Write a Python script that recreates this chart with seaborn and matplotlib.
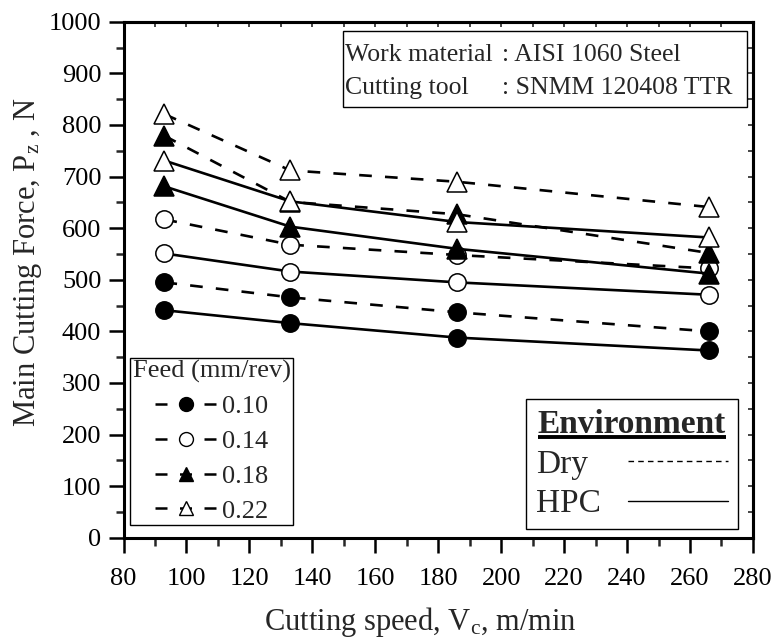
import numpy as np
import pandas as pd
import matplotlib
matplotlib.use("Agg")
import matplotlib.pyplot as plt
from matplotlib.lines import Line2D
from matplotlib.patches import Rectangle
from matplotlib.ticker import MultipleLocator, NullFormatter
import seaborn as sns

# Cutting speeds (m/min)
speeds = [93, 133, 186, 266]
feeds = ["0.10", "0.14", "0.18", "0.22"]

# Main cutting force Pz (N), dry cutting
dry_f010 = [495, 466, 437, 400]
dry_f014 = [617, 568, 548, 522]
dry_f018 = [779, 651, 627, 552]
dry_f022 = [821, 712, 690, 641]

# Main cutting force Pz (N), high-pressure coolant
hpc_f010 = [441, 416, 388, 363]
hpc_f014 = [551, 516, 495, 471]
hpc_f018 = [681, 603, 560, 512]
hpc_f022 = [731, 652, 612, 582]

rows = []
for env, series in (("Dry", [dry_f010, dry_f014, dry_f018, dry_f022]),
                    ("HPC", [hpc_f010, hpc_f014, hpc_f018, hpc_f022])):
    for feed, vals in zip(feeds, series):
        for v, f in zip(speeds, vals):
            rows.append({"env": env, "feed": feed, "speed": v, "force": f})
df = pd.DataFrame(rows)

sns.set_theme(style="ticks")
plt.rcParams["font.family"] = ["Liberation Serif", "DejaVu Serif"]
plt.rcParams["mathtext.fontset"] = "custom"
plt.rcParams["mathtext.rm"] = "Liberation Serif"
plt.rcParams["mathtext.it"] = "Liberation Serif:italic"
plt.rcParams["mathtext.bf"] = "Liberation Serif:bold"

fig = plt.figure(figsize=(7.77, 6.41), dpi=100)
ax = fig.add_axes([0.159, 0.161, 0.810, 0.805])

marker_style = {
    "0.10": ("o", "black"),
    "0.14": ("o", "white"),
    "0.18": ("^", "black"),
    "0.22": ("^", "white"),
}
dash_ls = (0, (4.8, 5.0))
line_style = {"Dry": dash_ls, "HPC": "-"}

for env in ["Dry", "HPC"]:
    for feed in feeds:
        sub = df[(df["env"] == env) & (df["feed"] == feed)]
        mk, fc = marker_style[feed]
        sns.lineplot(data=sub, x="speed", y="force", ax=ax, color="black",
                     linestyle=line_style[env], linewidth=1.9,
                     marker=mk, markersize=12.5 if mk == "o" else 14,
                     markerfacecolor=fc, markeredgecolor="black",
                     markeredgewidth=1.1, legend=False)

ax.set_xlim(80, 280)
ax.set_ylim(0, 1000)
ax.xaxis.set_major_locator(MultipleLocator(20))
ax.xaxis.set_minor_locator(MultipleLocator(10))
ax.yaxis.set_major_locator(MultipleLocator(100))
ax.yaxis.set_minor_locator(MultipleLocator(50))
ax.tick_params(which="major", direction="out", length=11, width=1.8,
               labelsize=19, pad=5, colors="black")
ax.tick_params(axis="x", which="major", pad=11)
ax.tick_params(which="minor", direction="out", length=6, width=1.8)
for sp in ax.spines.values():
    sp.set_linewidth(2.2)
    sp.set_color("black")
    sp.set_visible(True)

# small inward ticks on the top and right frame
top = ax.secondary_xaxis("top")
top.set_xticks(np.arange(80, 281, 10))
top.xaxis.set_major_formatter(NullFormatter())
top.tick_params(direction="in", length=3.5, width=1.2)
right = ax.secondary_yaxis("right")
right.set_yticks(np.arange(0, 1001, 50))
right.yaxis.set_major_formatter(NullFormatter())
right.tick_params(direction="in", length=3.5, width=1.2)
for s in (top, right):
    for sp in s.spines.values():
        sp.set_linewidth(2.2)

ax.set_xlabel(r"Cutting speed, $\mathrm{V_c}$, m/min", fontsize=22)
ax.set_ylabel(r"Main Cutting Force, $\mathrm{P_z}$ , N", fontsize=22)
ax.xaxis.set_label_coords(0.471, -0.13)
ax.yaxis.set_label_coords(-0.126, 0.533)

# work material / tool information box
ax.add_patch(Rectangle((0.348, 0.834), 0.642, 0.149, transform=ax.transAxes,
                       facecolor="white", edgecolor="black", linewidth=1.0,
                       zorder=5))
info_rows = [("Work material", ": AISI 1060 Steel", 0.9355),
             ("Cutting tool", ": SNMM 120408 TTR", 0.8716)]
for left_txt, right_txt, yy in info_rows:
    ax.text(0.352, yy, left_txt, transform=ax.transAxes, fontsize=18.5,
            ha="left", va="center", zorder=6)
    ax.text(0.601, yy, right_txt, transform=ax.transAxes, fontsize=18.5,
            ha="left", va="center", zorder=6)

# feed legend
feed_handles = []
for feed in feeds:
    mk, fc = marker_style[feed]
    feed_handles.append(Line2D([], [], color="black", linestyle=dash_ls,
                               linewidth=1.8, marker=mk, markersize=10,
                               markerfacecolor=fc, markeredgecolor="black",
                               markeredgewidth=1.0))
feed_leg = ax.legend(feed_handles, feeds, title="Feed (mm/rev)",
                     loc="lower left", bbox_to_anchor=(0.0103, 0.0244),
                     borderaxespad=0, fontsize=19, title_fontsize=19,
                     frameon=True, fancybox=False, edgecolor="black",
                     framealpha=1, borderpad=0.1, labelspacing=0.43,
                     handlelength=2.35, handletextpad=0.2)
feed_leg.get_frame().set_linewidth(1.0)
feed_leg.set_zorder(10)
ax.add_artist(feed_leg)

# environment legend
env_handles = [Line2D([], [], color="black", linewidth=1.0,
                      linestyle=(0, (4.0, 3.0))),
               Line2D([], [], color="black", linewidth=1.0, linestyle="-")]
env_leg = ax.legend(env_handles, ["Dry", "HPC"], title="Environment",
                    loc="lower right", bbox_to_anchor=(0.9758, 0.0161),
                    borderaxespad=0, fontsize=24,
                    title_fontproperties={"size": 24, "weight": "bold"},
                    frameon=True, fancybox=False, edgecolor="black",
                    framealpha=1, borderpad=0.3, labelspacing=0.28,
                    handlelength=3.0, handletextpad=0.8, markerfirst=False)
env_leg.get_frame().set_linewidth(1.0)
env_leg.set_zorder(10)

# line the labels up on the left while the swatches stay right-aligned
fig.canvas.draw()
renderer = fig.canvas.get_renderer()
env_texts = env_leg.get_texts()
widths = [t.get_window_extent(renderer).width for t in env_texts]
items = env_leg._legend_handle_box.get_children()[0].get_children()
for item, w in zip(items, widths):
    item.sep += (max(widths) - w) * 72.0 / fig.dpi

# underline under the environment legend title
fig.canvas.draw()
tb = env_leg.get_title().get_window_extent(renderer)
inv = fig.transFigure.inverted()
(ux0, uy), (ux1, _) = inv.transform([(tb.x0, tb.y0 + 3), (tb.x1, tb.y0 + 3)])
fig.add_artist(Line2D([ux0, ux1], [uy, uy], transform=fig.transFigure,
                      color="black", linewidth=2.8, solid_capstyle="butt",
                      zorder=20))

fig.savefig("out.png", dpi=100)
